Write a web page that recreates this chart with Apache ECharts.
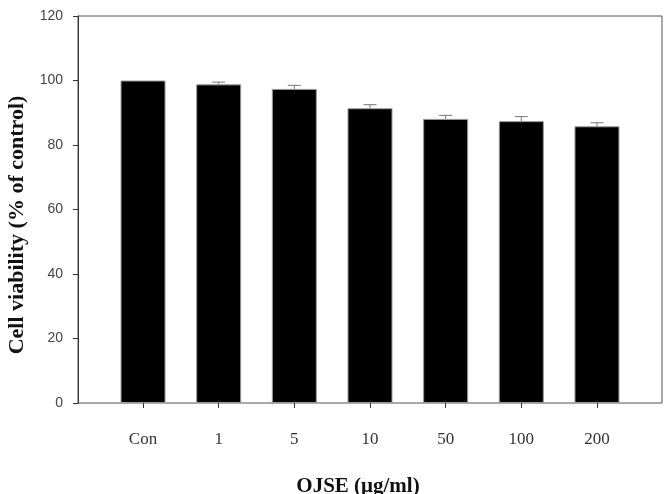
<!DOCTYPE html>
<html>
<head>
<meta charset="utf-8">
<script src="https://cdn.jsdelivr.net/npm/echarts@6/dist/echarts.min.js"></script>
<style>
  html, body { margin: 0; padding: 0; background: #fff; }
  #cell-viability { width: 667px; height: 494px; }
</style>
</head>
<body>
<div id="cell-viability"></div>
<script>
// data
var doseLabels = ["Con", "1", "5", "10", "50", "100", "200"];
var viability = [100, 98.8, 97.4, 91.4, 88.1, 87.4, 85.8];
var viabilityErr = [0, 0.7, 1.1, 1.1, 1.1, 1.4, 1.1];
var yTicks = [0, 20, 40, 60, 80, 100, 120];
var xTitle = "OJSE (μg/ml)";
var yTitle = "Cell viability (% of control)";

var chart = echarts.init(document.getElementById("cell-viability"));

var option = {
  animation: false,
  grid: [
    // outer frame + y axis
    { left: 78, right: 5, top: 16, bottom: 91, show: true, borderColor: "#555", borderWidth: 1, outerBoundsMode: "none" },
    // bars
    { left: 105.2, right: 32.2, top: 16, bottom: 91, outerBoundsMode: "none" }
  ],
  graphic: [
    {
      type: "text",
      x: 358, y: 487,
      style: {
        text: xTitle,
        font: "bold 21px 'Liberation Serif'",
        fill: "#111",
        align: "center",
        verticalAlign: "middle"
      }
    },
    {
      type: "text",
      x: 17, y: 225,
      rotation: Math.PI / 2,
      style: {
        text: yTitle,
        font: "bold 22px 'Liberation Serif'",
        fill: "#111",
        align: "center",
        verticalAlign: "middle"
      }
    }
  ],
  xAxis: [
    { gridIndex: 0, type: "value", min: 0, max: 1, show: false },
    {
      gridIndex: 1,
      type: "category",
      data: doseLabels,
      axisLine: { show: false },
      axisTick: { show: true, alignWithLabel: true, length: 5, lineStyle: { color: "#333" } },
      axisLabel: {
        margin: 28,
        color: "#333",
        fontFamily: "Liberation Serif",
        fontSize: 17
      }
    }
  ],
  yAxis: [
    {
      gridIndex: 0,
      type: "value",
      min: 0,
      max: 120,
      interval: 20,
      axisLine: { show: true, lineStyle: { color: "#333" } },
      axisTick: { show: true, length: 5, lineStyle: { color: "#333" } },
      axisLabel: {
        margin: 15,
        color: "#444",
        fontFamily: "Liberation Sans",
        fontSize: 14,
        formatter: function (v) { return yTicks.indexOf(v) >= 0 ? v : ""; }
      },
      splitLine: { show: false }
    },
    { gridIndex: 1, type: "value", min: 0, max: 120, show: false }
  ],
  series: [
    {
      type: "bar",
      xAxisIndex: 1,
      yAxisIndex: 1,
      data: viability,
      barWidth: 45,
      itemStyle: { color: "#000", borderColor: "#999", borderWidth: 1 }
    },
    {
      type: "custom",
      xAxisIndex: 1,
      yAxisIndex: 1,
      z: 5,
      data: viability.map(function (v, i) { return [i, v, viabilityErr[i]]; }),
      renderItem: function (params, api) {
        var err = api.value(2);
        if (!err) return null;
        var base = api.coord([api.value(0), api.value(1)]);
        var top = api.coord([api.value(0), api.value(1) + err]);
        var half = 6.5;
        var style = { stroke: "#777", lineWidth: 1 };
        return {
          type: "group",
          children: [
            { type: "line", shape: { x1: base[0], y1: base[1], x2: top[0], y2: top[1] }, style: style },
            { type: "line", shape: { x1: top[0] - half, y1: top[1], x2: top[0] + half, y2: top[1] }, style: style }
          ]
        };
      }
    }
  ]
};

chart.setOption(option);
</script>
</body>
</html>
